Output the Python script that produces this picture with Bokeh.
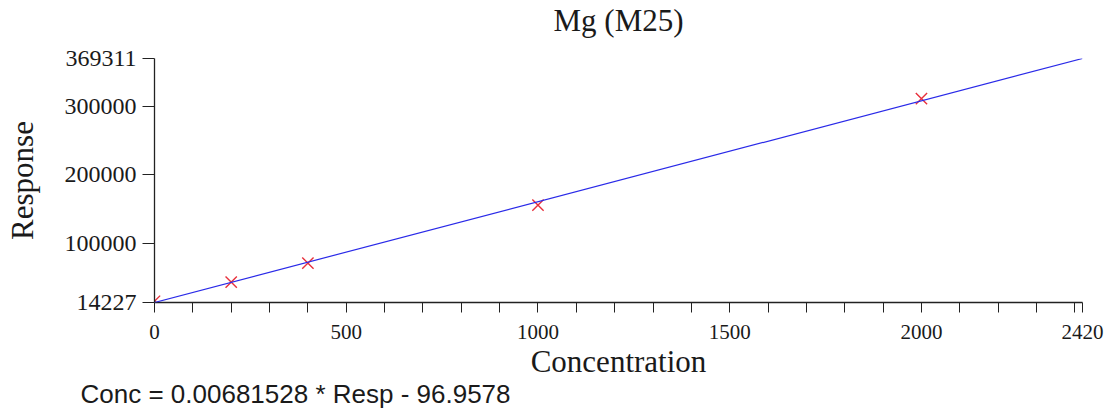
from bokeh.plotting import figure
from bokeh.models import FixedTicker, NumeralTickFormatter, Range1d, Slope, Title
from bokeh.embed import file_html
from bokeh.resources import INLINE

# Calibration data
conc = [0, 200, 400, 1000, 2000]
resp = [16000, 43800, 71400, 156000, 311000]

# Fit: Conc = a * Resp + b
fit_a = 0.00681528
fit_b = -96.9578

x_ticks = [0, 500, 1000, 1500, 2000, 2420]
x_minor = [v for v in range(100, 2500, 100) if v % 500 != 0]
y_ticks = [14227, 100000, 200000, 300000, 369311]

TITLE = "Mg (M25)"
EQUATION = "Conc = 0.00681528 * Resp - 96.9578"

SERIF = "Liberation Serif"
TXT = "#1a1a1a"

p = figure(width=1116, height=416, output_backend="svg", toolbar_location=None,
           title=None,
           x_range=Range1d(0, 2420), y_range=Range1d(14227, 369311),
           min_border_left=154, min_border_right=34, min_border_top=58, min_border_bottom=114)

p.outline_line_color = None
p.xgrid.visible = False
p.ygrid.visible = False
p.background_fill_color = "white"
p.border_fill_color = "white"

# spacer between title and plot frame, then the title itself (outer)
spacer = Title(text=" ", text_font_size="2px", standoff=17)
p.add_layout(spacer, "above")
main_title = Title(text=TITLE, align="center", vertical_align="bottom",
                   text_font=SERIF, text_font_size="31px", text_font_style="normal",
                   text_color=TXT, standoff=0)
p.add_layout(main_title, "above")

# Fitted line
p.add_layout(Slope(gradient=1.0 / fit_a, y_intercept=-fit_b / fit_a,
                   line_color="#2a2ae8", line_width=1.2))

p.scatter(conc, resp, marker="x", size=16, line_color="#e8303c", line_width=1.4)

xa = p.xaxis[0]
xa.ticker = FixedTicker(ticks=x_ticks, minor_ticks=x_minor)
xa.axis_label = "Concentration"
xa.axis_label_text_font = SERIF
xa.axis_label_text_font_size = "31px"
xa.axis_label_text_font_style = "normal"
xa.axis_label_text_color = TXT
xa.axis_label_standoff = 2
xa.axis_label_text_line_height = 0.8
xa.major_label_text_font = SERIF
xa.major_label_text_font_size = "21px"
xa.major_label_text_color = TXT
xa.major_label_standoff = 12
xa.major_tick_in = 0
xa.major_tick_out = 10
xa.minor_tick_in = 0
xa.minor_tick_out = 10
xa.axis_line_color = "#222222"
xa.major_tick_line_color = "#222222"
xa.minor_tick_line_color = "#222222"
xa.axis_line_width = 1.3

ya = p.yaxis[0]
ya.ticker = FixedTicker(ticks=y_ticks)
ya.formatter = NumeralTickFormatter(format="0")
ya.axis_label = "Response"
ya.axis_label_text_font = SERIF
ya.axis_label_text_font_size = "31px"
ya.axis_label_text_font_style = "normal"
ya.axis_label_text_color = TXT
ya.axis_label_standoff = 22
ya.major_label_text_font = SERIF
ya.major_label_text_font_size = "24px"
ya.major_label_text_color = TXT
ya.major_label_standoff = 6
ya.major_tick_in = 0
ya.major_tick_out = 12
ya.minor_tick_line_color = None
ya.axis_line_color = "#222222"
ya.major_tick_line_color = "#222222"
ya.axis_line_width = 1.3

eq = Title(text=EQUATION, align="left", offset=-74, vertical_align="bottom",
           text_font="Liberation Sans", text_font_size="26px", text_font_style="normal",
           text_color=TXT, standoff=-10)
p.add_layout(eq, "below")

open("out.html", "w").write(file_html(p, INLINE))
